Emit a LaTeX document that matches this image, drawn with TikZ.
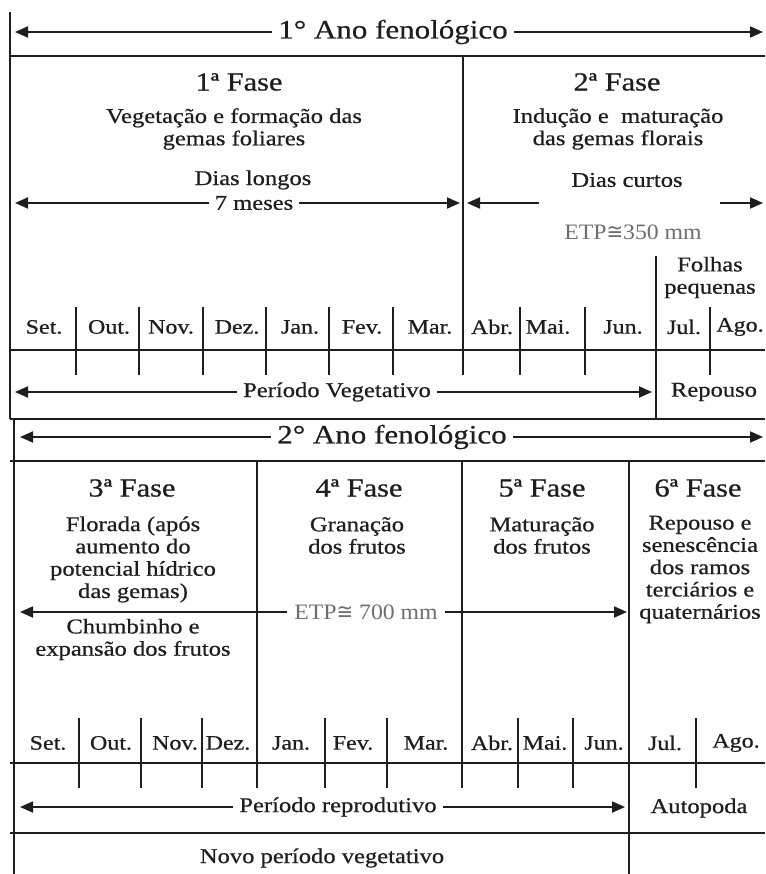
\documentclass[tikz,border=0pt]{standalone}
\usepackage{fontspec}
\setmainfont{Liberation Serif}[FakeStretch=1.17,FakeBold=0.6]
\newfontfamily\etpfont{Liberation Serif}[FakeStretch=1.08]
\newfontfamily\congfont{DejaVu Sans}[FakeStretch=0.9]
\usetikzlibrary{arrows.meta}
\definecolor{ink}{HTML}{1E1E1E}
\definecolor{etpgray}{HTML}{6E6E6E}
\begin{document}
\begin{tikzpicture}[x=1pt,y=-1pt,
  rule/.style={line width=1.4pt, draw=ink},
  arr/.style={line width=1.8pt, draw=ink, {Triangle[length=13pt,width=11pt]}-{Triangle[length=13pt,width=11pt]}},
  arrR/.style={line width=1.8pt, draw=ink, -{Triangle[length=13pt,width=11pt]}},
  body/.style={font=\fontsize{21}{22.3}\selectfont, text=ink, align=center, inner sep=0pt},
  head/.style={font=\fontsize{26.5}{28}\selectfont, text=ink, fill=white, inner xsep=6pt, inner ysep=1pt},
  fase/.style={font=\fontsize{26}{28}\selectfont, text=ink, inner sep=0pt},
  mon/.style={font=\fontsize{20.5}{22}\selectfont, text=ink, inner sep=0pt},
  gap/.style={fill=white, inner xsep=6pt, inner ysep=1pt},
  etp/.style={font=\etpfont\fontsize{22}{24}\selectfont, text=etpgray},
]
\useasboundingbox (0,0) rectangle (765,874);
\fill[white] (0,0) rectangle (765,874);

% ---------- frame lines, top panel ----------
\draw[rule] (10,12) -- (10,419);
\draw[rule] (10,56) -- (765,56);
\draw[rule] (10,350) -- (765,350);
\draw[rule] (10,419) -- (765,419);
\draw[rule] (463,56) -- (463,375);
\draw[rule] (656,256) -- (656,419);
\foreach \x in {76,139,203,266,329,393,520,585,710}
  \draw[rule] (\x,307) -- (\x,375);

% ---------- frame lines, bottom panel ----------
\draw[rule] (14,419) -- (14,874);
\draw[rule] (10,461) -- (765,461);
\draw[rule] (10,763) -- (765,763);
\draw[rule] (10,833) -- (765,833);
\draw[rule] (257,461) -- (257,788);
\draw[rule] (462,461) -- (462,788);
\draw[rule] (629,461) -- (629,874);
\foreach \x in {79,141,202,325,387,518,573,696}
  \draw[rule] (\x,718) -- (\x,788);

% ---------- arrows ----------
\coordinate (a1L) at (15,32);   \coordinate (a1R) at (763,32);
\coordinate (mL) at (15,203);   \coordinate (mR) at (460,203);
\coordinate (cLs) at (539,203); \coordinate (cLe) at (467,203);
\coordinate (cRs) at (720,203); \coordinate (cRe) at (763,203);
\coordinate (pvL) at (15,392);  \coordinate (pvR) at (652,392);
\coordinate (a2L) at (20,437);  \coordinate (a2R) at (763,437);
\coordinate (eL) at (20,612);   \coordinate (eR) at (627,612);
\coordinate (prL) at (20,807);  \coordinate (prR) at (625,807);

\draw[arr] (a1L) -- (a1R);
\draw[arr] (mL) -- (mR);
\draw[arrR] (cLs) -- (cLe);
\draw[arrR] (cRs) -- (cRe);
\draw[arr] (pvL) -- (pvR);
\draw[arr] (a2L) -- (a2R);
\draw[arr] (eL) -- (eR);
\draw[arr] (prL) -- (prR);

% ---------- top panel texts ----------
\node[head] (ano1) at (393,32) {1° Ano fenológico};
\node[fase] (f1) at (239,82) {1ª Fase};
\node[fase] (f2) at (617,82) {2ª Fase};
\node[body] (veg) at (234,129) {Vegetação e formação das\\gemas foliares};
\node[body] (ind) at (618,129) {Indução e\ \ maturação\\das gemas florais};
\node[body] (dl) at (253,180) {Dias longos};
\node[body, gap] (sete) at (254,203) {7 meses};
\node[body] (dc) at (627,180) {Dias curtos};
\node[etp] (etp1) at (633,232) {ETP{\congfont ≅}350 mm};
\node[body] (folhas) at (710,277.5) {Folhas\\pequenas};
\node[body, gap] (pveg) at (337,392) {Período Vegetativo};
\node[body] (rep1) at (714,392) {Repouso};

\foreach \t [count=\i] / \x in {Set./44, Out./109, Nov./171, Dez./237, Jan./300, Fev./362, Mar./430, Abr./492, Mai./548, Jun./623, Jul./684, Ago./740}
  \node[mon] (m\i) at (\x,327) {\t};

% ---------- bottom panel texts ----------
\node[head] (ano2) at (392,437) {2° Ano fenológico};
\node[fase] (f3) at (132,488) {3ª Fase};
\node[fase] (f4) at (359,488) {4ª Fase};
\node[fase] (f5) at (542,488) {5ª Fase};
\node[fase] (f6) at (698,488) {6ª Fase};
\node[body] (flor) at (133,559.5) {Florada (após\\aumento do\\potencial hídrico\\das gemas)};
\node[body] (gran) at (357,535.5) {Granação\\dos frutos};
\node[body] (mat) at (542,535.5) {Maturação\\dos frutos};
\node[body] (rep6) at (700,569.5) {Repouso e\\senescência\\dos ramos\\terciários e\\quaternários};
\node[etp, fill=white, inner xsep=7pt] (etp2) at (366,612) {ETP{\congfont ≅} 700 mm};
\node[body] (chumb) at (133,639.5) {Chumbinho e\\expansão dos frutos};

\foreach \t [count=\i] / \x in {Set./48, Out./111, Nov./175, Dez./228, Jan./291, Fev./353, Mar./426, Abr./492, Mai./545, Jun./604, Jul./665, Ago./736}
  \node[mon] (n\i) at (\x,743) {\t};

\node[body, gap] (prep) at (338,807) {Período reprodutivo};
\node[body] (auto) at (699,808) {Autopoda};
\node[body] (novo) at (322,858) {Novo período vegetativo};
\end{tikzpicture}
\end{document}
